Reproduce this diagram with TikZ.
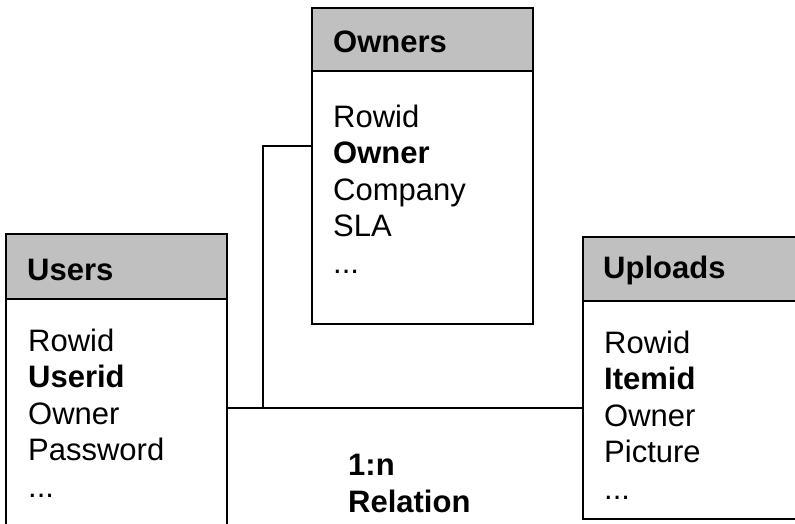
\documentclass[tikz,border=0pt]{standalone}
\usepackage{fontspec}
\setmainfont{Liberation Sans}
\definecolor{headgray}{HTML}{C0C0C0}
\tikzset{
  tablebox/.style={draw, line width=2pt, anchor=north west, inner sep=0pt},
  headbox/.style={tablebox, fill=headgray},
  field/.style={anchor=base west, inner sep=0pt, font=\fontsize{31pt}{36.5pt}\selectfont},
  link/.style={line width=1.4pt}
}
\begin{document}
\begin{tikzpicture}[x=1pt,y=-1pt]
\useasboundingbox (0,0) rectangle (795,523);
\clip (0,0) rectangle (795,523);
% table frames
\node[tablebox, minimum width=221pt, minimum height=320pt] (users) at (5,233) {};
\node[headbox, minimum width=221pt, minimum height=65pt] (users-head) at (5,233) {};
\node[tablebox, minimum width=221pt, minimum height=316pt] (owners) at (311,7) {};
\node[headbox, minimum width=221pt, minimum height=63pt] (owners-head) at (311,7) {};
\node[tablebox, minimum width=240pt, minimum height=282pt] (uploads) at (582,236) {};
\node[headbox, minimum width=240pt, minimum height=64pt] (uploads-head) at (582,236) {};
% titles
\node[field] (users-title) at (27,280) {\textbf{Users}};
\node[field] (owners-title) at (333,52) {\textbf{Owners}};
\node[field] (uploads-title) at (603,278) {\textbf{Uploads}};
% columns
\foreach \f [count=\i] in {Rowid,\textbf{Userid},Owner,Password,.{}.{}.}
  \node[field] (users-\i) at (28,{351+36.5*(\i-1)}) {\f};
\foreach \f [count=\i] in {Rowid,\textbf{Owner},Company,SLA,.{}.{}.}
  \node[field] (owners-\i) at (333,{127+36.5*(\i-1)}) {\f};
\foreach \f [count=\i] in {Rowid,\textbf{Itemid},Owner,Picture,.{}.{}.}
  \node[field] (uploads-\i) at (604,{353+36.5*(\i-1)}) {\f};
% relation lines
\coordinate (joint) at (263,408);
\draw[link] (users.east |- joint) -- (uploads.west |- joint);
\draw[link] (joint) |- ([yshift=20pt]owners.west);
% base of a two-line node sits on its last line
\node[field, align=left] (relation) at (348,512) {\textbf{1:n}\\\textbf{Relation}};
\end{tikzpicture}
\end{document}
